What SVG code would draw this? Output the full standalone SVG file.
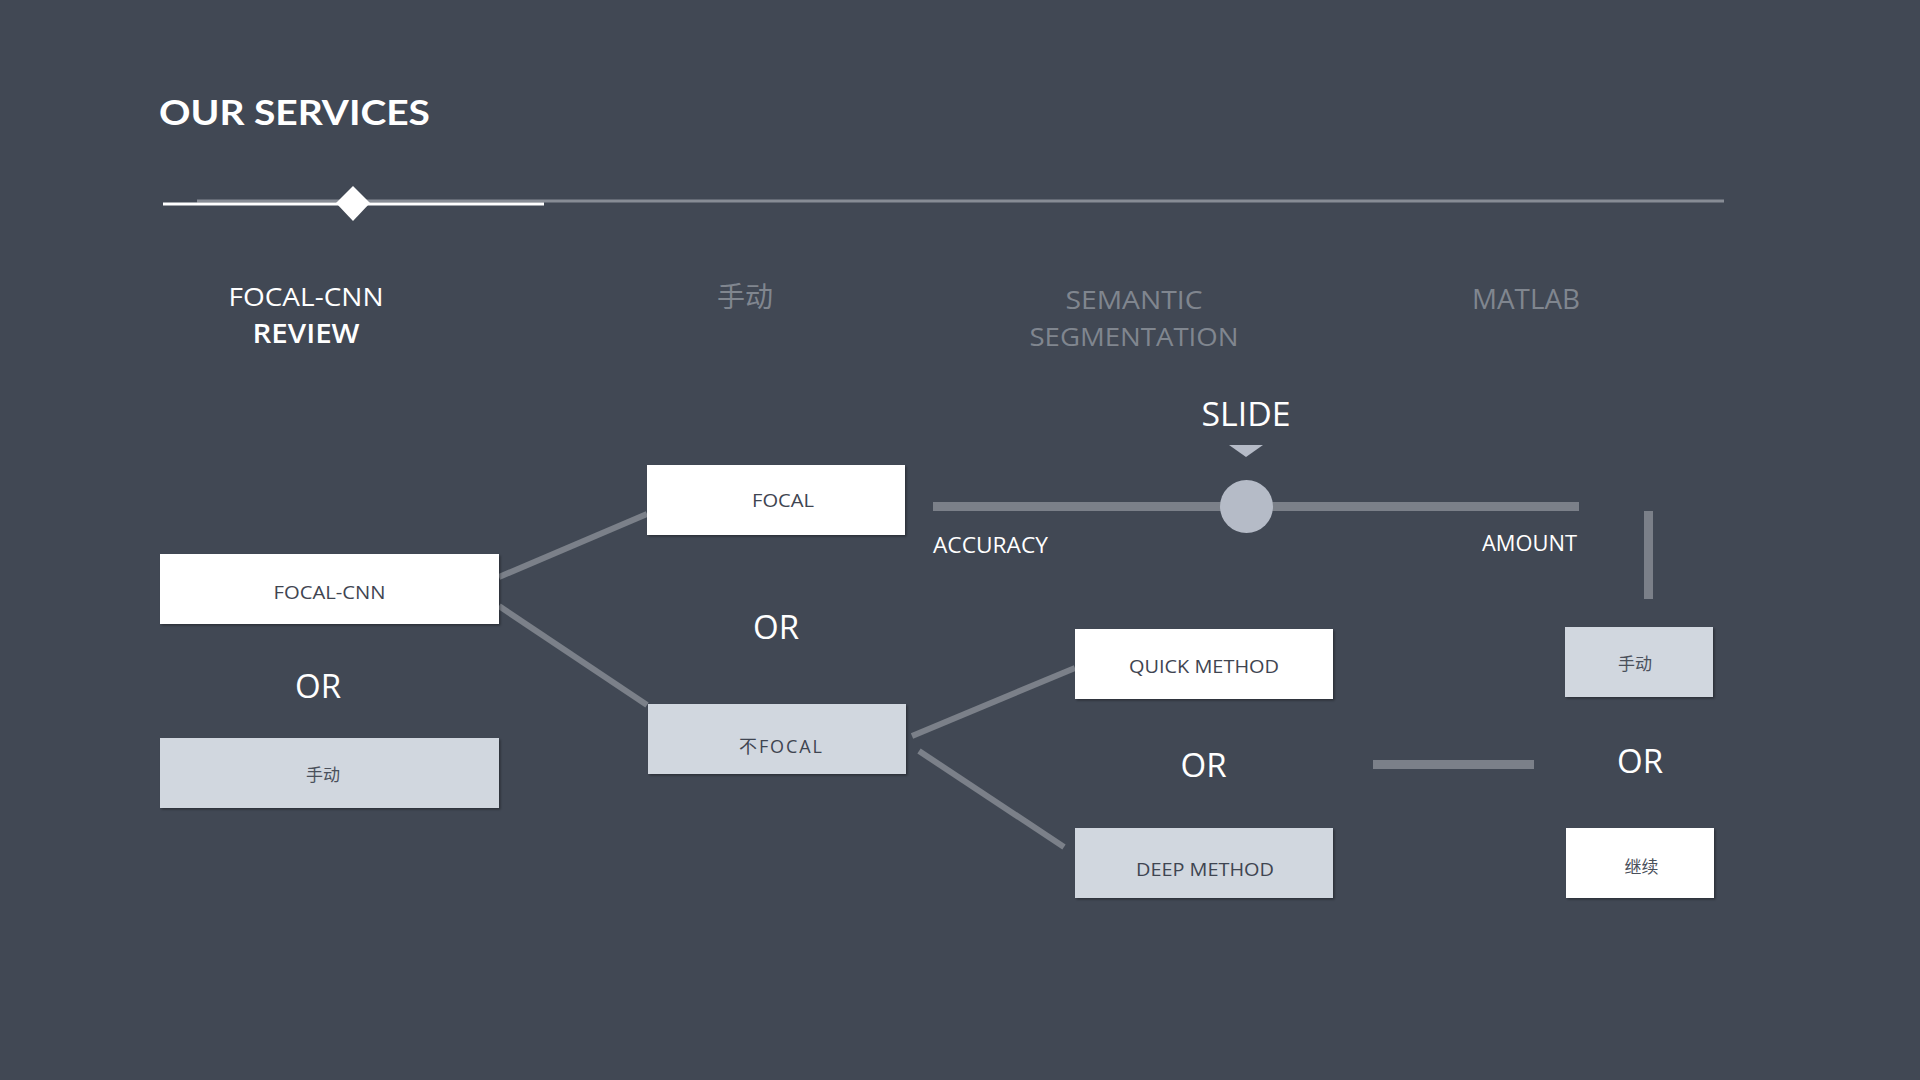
<svg xmlns="http://www.w3.org/2000/svg" width="1920" height="1080" viewBox="0 0 1920 1080">
<defs>
<filter id="sh" x="-5%" y="-10%" width="115%" height="130%">
<feDropShadow dx="1.5" dy="1.5" stdDeviation="1" flood-color="#000" flood-opacity="0.35"/>
</filter>
<style>
text{font-family:"Open Sans","Noto Sans CJK SC",sans-serif;}
.head{font-size:27px;text-anchor:middle;}
.hw{fill:#ffffff;}
.hg{fill:#80868f;}
.or{font-size:33px;fill:#ffffff;text-anchor:middle;}
.lbl{font-size:18px;fill:#3f4551;text-anchor:middle;}
.cn{font-size:17px;fill:#4a505b;text-anchor:middle;}
.wbox{fill:#ffffff;filter:url(#sh);}
.gbox{fill:#d1d7df;filter:url(#sh);}
.conn{stroke:#7b8089;stroke-width:6;fill:none;}
.bar{fill:#7b8089;}
.sl{font-size:22px;fill:#ffffff;}
</style>
</defs>
<rect x="0" y="0" width="1920" height="1080" fill="#414854"/>

<g id="title">
<text x="159" y="125" font-size="35" fill="#ffffff" textLength="271" lengthAdjust="spacingAndGlyphs" style="font-family:Lato,'Open Sans',sans-serif;font-weight:700">OUR SERVICES</text>
</g>

<g id="timeline">
<line x1="197" y1="201" x2="1724" y2="201" stroke="#878c95" stroke-width="3"/>
<line x1="163" y1="204" x2="544" y2="204" stroke="#ffffff" stroke-width="3"/>
<polygon points="353,186 370,203 353,221 336,203" fill="#ffffff"/>
</g>

<g id="headings">
<text class="head hw" x="306" y="306" textLength="155" lengthAdjust="spacingAndGlyphs" style="font-size:25px">FOCAL-CNN</text>
<text class="head hw" x="306" y="343" font-weight="600" textLength="107" lengthAdjust="spacingAndGlyphs" style="font-size:27px">REVIEW</text>
<text class="head hg" x="745" y="307" style="font-size:28px">手动</text>
<text class="head hg" x="1134" y="309" textLength="137" lengthAdjust="spacingAndGlyphs" style="font-size:26px">SEMANTIC</text>
<text class="head hg" x="1134" y="346" textLength="209" lengthAdjust="spacingAndGlyphs" style="font-size:26px">SEGMENTATION</text>
<text class="head hg" x="1526" y="309" textLength="108" lengthAdjust="spacingAndGlyphs">MATLAB</text>
</g>

<g id="connectors">
<line class="conn" x1="499" y1="577" x2="647" y2="514"/>
<line class="conn" x1="499" y1="606" x2="647" y2="705"/>
<line class="conn" x1="912" y1="736" x2="1075" y2="668"/>
<line class="conn" x1="919" y1="751" x2="1064" y2="847"/>
<rect class="bar" x="1373" y="760" width="161" height="9"/>
<rect class="bar" x="1644" y="511" width="9" height="88"/>
</g>

<g id="slider">
<text x="1246" y="426" font-size="32" fill="#ffffff" text-anchor="middle" textLength="89" lengthAdjust="spacingAndGlyphs">SLIDE</text>
<polygon points="1229,445 1263,445 1246,457" fill="#b5bbc7"/>
<rect x="933" y="502" width="646" height="9" fill="#7b8089"/>
<circle cx="1246.5" cy="506.5" r="26.5" fill="#b5bbc7"/>
<text class="sl" x="933" y="553" textLength="115" lengthAdjust="spacingAndGlyphs">ACCURACY</text>
<text class="sl" x="1482" y="551" textLength="95" lengthAdjust="spacingAndGlyphs">AMOUNT</text>
</g>

<g id="node-focal-cnn">
<rect class="wbox" x="160" y="554" width="339" height="70"/>
<text class="lbl" x="329.5" y="599" textLength="112" lengthAdjust="spacingAndGlyphs">FOCAL-CNN</text>
</g>
<g id="or-1"><text class="or" x="318" y="698">OR</text></g>
<g id="node-manual-1">
<rect class="gbox" x="160" y="738" width="339" height="70"/>
<text class="cn" x="323" y="781">手动</text>
</g>

<g id="node-focal">
<rect class="wbox" x="647" y="465" width="258" height="70"/>
<text class="lbl" x="783" y="507" textLength="62" lengthAdjust="spacingAndGlyphs">FOCAL</text>
</g>
<g id="or-2"><text class="or" x="776" y="639">OR</text></g>
<g id="node-not-focal">
<rect class="gbox" x="648" y="704" width="258" height="70"/>
<text class="lbl" x="780.5" y="753" textLength="83" lengthAdjust="spacing">不FOCAL</text>
</g>

<g id="node-quick">
<rect class="wbox" x="1075" y="629" width="258" height="70"/>
<text class="lbl" x="1204" y="673" textLength="150" lengthAdjust="spacingAndGlyphs">QUICK METHOD</text>
</g>
<g id="or-3"><text class="or" x="1203.5" y="777">OR</text></g>
<g id="node-deep">
<rect class="gbox" x="1075" y="828" width="258" height="70"/>
<text class="lbl" x="1205" y="876" textLength="138" lengthAdjust="spacingAndGlyphs">DEEP METHOD</text>
</g>

<g id="node-manual-2">
<rect class="gbox" x="1565" y="627" width="148" height="70"/>
<text class="cn" x="1635" y="670">手动</text>
</g>
<g id="or-4"><text class="or" x="1640" y="773">OR</text></g>
<g id="node-continue">
<rect class="wbox" x="1566" y="828" width="148" height="70"/>
<text class="cn" x="1641.5" y="873">继续</text>
</g>
</svg>
